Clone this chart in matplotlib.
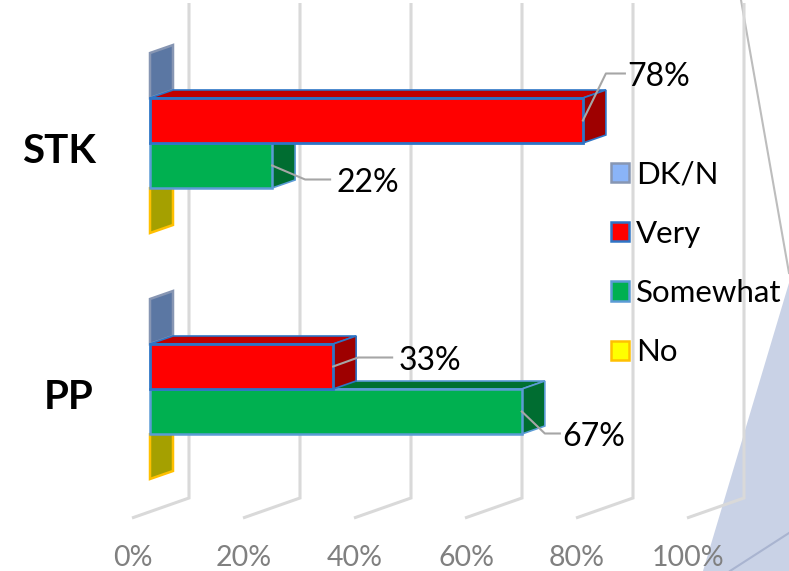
import matplotlib
matplotlib.use('Agg')
import matplotlib.pyplot as plt
from matplotlib.patches import Patch, Polygon

plt.rcParams['font.family'] = ['Lato', 'DejaVu Sans']

categories = ['PP', 'STK']
dk_values = [0, 0]
very_values = [33, 78]
somewhat_values = [67, 22]
no_values = [0, 0]
tick_values = [0, 20, 40, 60, 80, 100]
tick_labels = ['0%', '20%', '40%', '60%', '80%', '100%']
legend_labels = ['DK/N', 'Very', 'Somewhat', 'No']

W, H = 789, 571
PX_X = 5.55   # pixels per percent
PX_Y = 246    # pixels per category step
BAR_H = 45 / PX_Y
DX = 23 / PX_X
DY = 8 / PX_Y

fig = plt.figure(figsize=(W / 100, H / 100), dpi=100)

# background layer in pixels, for the slide decoration
bg = fig.add_axes([0, 0, 1, 1])
bg.set_xlim(0, W)
bg.set_ylim(H, 0)
bg.axis('off')
bg.add_patch(Polygon([(789, 283), (703, 571), (789, 571)], fc='#c9d2e6', ec='none'))
bg.plot([741, 789], [0, 273], color='#bdbdbd', lw=1.5)
bg.plot([730, 789], [571, 533], color='#a9b4d0', lw=1.5)

ax = fig.add_axes([0, 0, 1, 1])
ax.patch.set_alpha(0)
ax.set_xlim(-150 / PX_X, (W - 150) / PX_X)
ax.set_ylim((389 - H) / PX_Y, 389 / PX_Y)
ax.axis('off')


def y_of(py):
    return (389 - py) / PX_Y


def x_of(px):
    return (px - 150) / PX_X


# walls and floor lines
for v, lab in zip(tick_values, tick_labels):
    xb = v + 39 / PX_X
    xf = v - 18 / PX_X
    ax.plot([xb, xb, xf], [y_of(3), y_of(498), y_of(518)], color='#d9d9d9', lw=2.2,
            solid_joinstyle='miter', solid_capstyle='butt', zorder=1)
    ax.text(v - 17 / PX_X, y_of(558), lab, color='#808080', fontsize=20.5, ha='center', va='center', zorder=6)


def bar3d(value, y0, front, top, side, edge, lw, z):
    # y0 is the top of the front face
    y1 = y0 - BAR_H
    if value > 0:
        ax.add_patch(Polygon([(0, y0), (DX, y0 + DY), (value + DX, y0 + DY), (value, y0)],
                             fc=top, ec=edge, lw=1.2, zorder=z))
        ax.add_patch(Polygon([(value, y0), (value + DX, y0 + DY), (value + DX, y1 + DY), (value, y1)],
                             fc=side, ec=edge, lw=1.2, zorder=z))
        ax.add_patch(Polygon([(0, y0), (value, y0), (value, y1), (0, y1)],
                             fc=front, ec=edge, lw=lw, zorder=z))
    else:
        ax.add_patch(Polygon([(value, y0), (value + DX, y0 + DY), (value + DX, y1 + DY), (value, y1)],
                             fc=side, ec=edge, lw=lw, zorder=z))


for i, name in enumerate(categories):
    bar3d(dk_values[i], i + 2 * BAR_H, '#8ab4f8', '#5b77a3', '#5b77a3', '#8796b3', 1.8, 2)
    bar3d(no_values[i], i - BAR_H, '#ffff00', '#a5a000', '#a5a000', '#ffc000', 1.8, 2)
    bar3d(somewhat_values[i], i, '#00b050', '#007030', '#006d31', '#5b9bd5', 1.8, 3)
    bar3d(very_values[i], i + BAR_H, '#ff0000', '#c00000', '#9e0000', '#2e75c6', 2, 4)
    ax.text(x_of(59 if i else 69), i - 0.035, name, fontsize=29, fontweight='bold', ha='center', va='center', zorder=6)

# leader lines and value labels
leaders = [
    (very_values[1], 1 + BAR_H / 2, [(23, -47), (42, -47)], '78%', 76),
    (somewhat_values[1], 1 - BAR_H / 2, [(33, 14), (58, 14)], '22%', 96),
    (very_values[0], 0 + BAR_H / 2, [(25, -9), (59, -9)], '33%', 97),
    (somewhat_values[0], 0 - BAR_H / 2, [(23, 22), (38, 22)], '67%', 72),
]
for v, y, bends, lab, off in leaders:
    xs = [v] + [v + b[0] / PX_X for b in bends]
    ys = [y] + [y - b[1] / PX_Y for b in bends]
    ax.plot(xs, ys, color='#a6a6a6', lw=1.5, zorder=5)
    ax.text(v + off / PX_X, ys[-1] - 3.5 / PX_Y, lab, fontsize=23, ha='center', va='center', zorder=6)

handles = [
    Patch(fc='#8ab4f8', ec='#8796b3', lw=1.8),
    Patch(fc='#ff0000', ec='#2e75c6', lw=1.8),
    Patch(fc='#00b050', ec='#5b9bd5', lw=1.8),
    Patch(fc='#ffff00', ec='#ffc000', lw=1.8),
]
ax.legend(handles, legend_labels, frameon=False, fontsize=22.5, loc='upper left',
          bbox_to_anchor=(611 / W, 1 - 160.5 / H), borderaxespad=0, borderpad=0,
          handlelength=0.58, handleheight=0.58, handletextpad=0.22, labelspacing=1.0)

fig.savefig('out.png', dpi=100)
